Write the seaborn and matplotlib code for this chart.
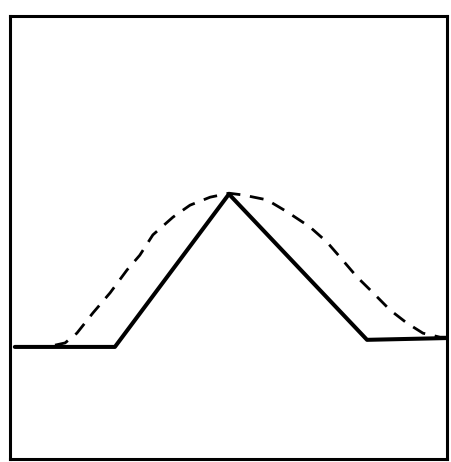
import matplotlib
matplotlib.use("Agg")
import matplotlib.pyplot as plt
import seaborn as sns
import pandas as pd

# solid trapezoid-like profile
solid_x = [1.1, 24.0, 50.1, 81.7, 100.0]
solid_y = [25.3, 25.3, 59.8, 26.9, 27.3]

# dashed smooth profile
dash_x = [10.3, 12.6, 15.3, 19.0, 22.9, 26.8, 29.7, 32.7, 37.3, 41.2,
          45.8, 50.1, 53.3, 58.8, 63.4, 68.6, 72.5, 75.5, 79.4, 83.1,
          87.0, 90.8, 94.5, 98.4, 100.0]
dash_y = [25.7, 26.2, 28.4, 33.0, 37.5, 42.7, 46.0, 50.6, 54.6, 57.3,
          59.1, 60.0, 59.6, 58.5, 55.8, 52.4, 49.0, 45.6, 41.1, 37.5,
          33.6, 30.7, 28.4, 27.5, 27.5]

sns.set_style("white")

fig = plt.figure(figsize=(4.51, 4.62), dpi=100)
ax = fig.add_axes([10 / 451, 3 / 462, 437 / 451, 443 / 462])

solid = pd.DataFrame({"x": solid_x, "y": solid_y})
dashed = pd.DataFrame({"x": dash_x, "y": dash_y})

sns.lineplot(data=solid, x="x", y="y", color="black", linewidth=2.9,
             sort=False, ax=ax)
sns.lineplot(data=dashed, x="x", y="y", color="black", linewidth=2.0,
             sort=False, ax=ax)
ax.lines[-1].set_linestyle((0, (5, 3.5)))

ax.set_xlim(0, 100)
ax.set_ylim(0, 100)
ax.set_xticks([])
ax.set_yticks([])
ax.set_xlabel("")
ax.set_ylabel("")
for s in ax.spines.values():
    s.set_color("black")
    s.set_linewidth(2.2)

fig.savefig("out.png", dpi=100)
